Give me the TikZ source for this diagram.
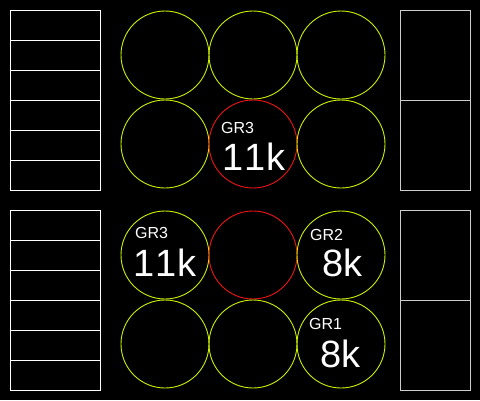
\documentclass[tikz,border=0pt]{standalone}
\usepackage{fontspec}
\setmainfont{Liberation Sans}
\definecolor{ygreen}{RGB}{204,240,0}
\definecolor{rred}{RGB}{240,20,20}
\definecolor{rackgray}{RGB}{205,205,205}
\begin{document}
\begin{tikzpicture}[x=1pt,y=-1pt,
  slot/.style={circle,draw=ygreen,line width=0.9pt,minimum size=88pt,inner sep=0pt},
  hotslot/.style={slot,draw=rred},
  grlab/.style={anchor=base west,inner sep=0pt,text=white,font=\fontsize{16}{16}\selectfont},
  biglab/.style={anchor=base west,inner sep=0pt,text=white,font=\fontsize{38}{38}\selectfont},
  rackw/.style={draw=white,line width=1pt},
  rackg/.style={draw=rackgray,line width=1pt}]
\fill[black] (0,0) rectangle (480,400);
\useasboundingbox (0,0) rectangle (480,400);
% racks
\foreach \yo in {0,200}{
  \draw[rackw] (10,10+\yo) rectangle (100,190+\yo);
  \foreach \k in {40,70,100,130,160} \draw[rackw] (10,\k+\yo) -- (100,\k+\yo);
  \draw[rackg] (400,10+\yo) rectangle (470,190+\yo);
  \draw[rackg] (400,100+\yo) -- (470,100+\yo);
}
% circles
\node[slot] (a1) at (165,55) {};
\node[slot] (a2) at (253,55) {};
\node[slot] (a3) at (341,55) {};
\node[slot] (b1) at (165,144) {};
\node[hotslot] (b2) at (253,144) {};
\node[slot] (b3) at (341,144) {};
\node[slot] (c1) at (165,255) {};
\node[hotslot] (c2) at (253,255) {};
\node[slot] (c3) at (341,255) {};
\node[slot] (d1) at (165,344) {};
\node[slot] (d2) at (253,344) {};
\node[slot] (d3) at (341,344) {};
% labels
\node[grlab] (t1) at (221,133) {GR3};
\node[biglab] (t2) at (222.5,170) {1\kern1pt1\kern1pt k};
\node[grlab] (t3) at (135,238) {GR3};
\node[biglab] (t4) at (133.5,276) {1\kern1pt1\kern1pt k};
\node[grlab] (t5) at (310,240) {GR2};
\node[biglab] (t6) at (322,276) {8k};
\node[grlab] (t7) at (309,329) {GR1};
\node[biglab] (t8) at (320,367) {8k};
\end{tikzpicture}
\end{document}
